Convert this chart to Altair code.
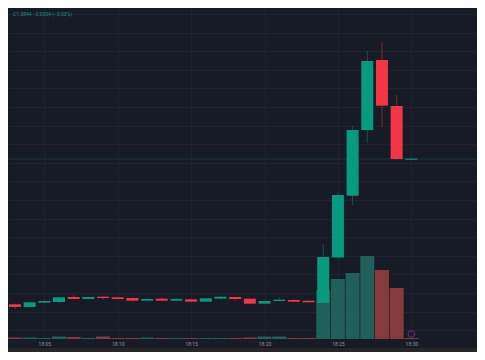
import altair as alt
import pandas as pd

# ---- data ----
times = ["18:02", "18:03", "18:04", "18:05", "18:06", "18:07", "18:08", "18:09", "18:10",
         "18:11", "18:12", "18:13", "18:14", "18:15", "18:16", "18:17", "18:18", "18:19",
         "18:20", "18:21", "18:22", "18:23", "18:24", "18:25", "18:26", "18:27", "18:28",
         "18:29", "18:30"]
opens = [1.380422, 1.380494, 1.380422, 1.380537, 1.380556, 1.380690, 1.380637, 1.380698, 1.380682,
         1.380663, 1.380591, 1.380645, 1.380591, 1.380628, 1.380564, 1.380645, 1.380690, 1.380645,
         1.380510, 1.380583, 1.380610, 1.380591, 1.380529, 1.381752, 1.383413, 1.385180, 1.387061,
         1.385825, 1.384380]
highs = [1.380502, 1.380521, 1.380569, 1.380602, 1.380682, 1.380744, 1.380703, 1.380709, 1.380690,
         1.380682, 1.380650, 1.380672, 1.380655, 1.380637, 1.380663, 1.380717, 1.380698, 1.380655,
         1.380591, 1.380690, 1.380637, 1.380602, 1.382115, 1.383486, 1.385287, 1.387303, 1.387545,
         1.386120, 1.384420]
lows = [1.380422, 1.380368, 1.380408, 1.380537, 1.380521, 1.380637, 1.380637, 1.380618, 1.380628,
        1.380564, 1.380583, 1.380591, 1.380591, 1.380556, 1.380556, 1.380618, 1.380591, 1.380498,
        1.380498, 1.380583, 1.380564, 1.380537, 1.380529, 1.381752, 1.383163, 1.384830, 1.385260,
        1.384373, 1.384380]
closes = [1.380502, 1.380422, 1.380548, 1.380583, 1.380682, 1.380637, 1.380690, 1.380663, 1.380637,
          1.380591, 1.380637, 1.380591, 1.380637, 1.380564, 1.380655, 1.380698, 1.380637, 1.380510,
          1.380583, 1.380618, 1.380564, 1.380548, 1.381766, 1.383432, 1.385180, 1.387034, 1.385833,
          1.384400, 1.384410]
volumes = [75, 75, 75, 50, 125, 100, 50, 125, 50,
           50, 75, 50, 50, 50, 50, 50, 50, 75,
           125, 125, 50, 50, 2450, 3000, 3300, 4150, 3450,
           2550, 50]
volume_dirs = ["up", "down", "up", "up", "up", "down", "up", "down", "down",
               "down", "up", "down", "up", "down", "up", "up", "down", "down",
               "up", "up", "down", "down", "up", "up", "up", "up", "down",
               "down", "down"]
tick_labels = ["18:05", "18:10", "18:15", "18:20", "18:25", "18:30"]
price_grid = [1.3798, 1.3803, 1.3808, 1.3813, 1.3818, 1.3823, 1.3828, 1.3833, 1.3838,
              1.3843, 1.3848, 1.3853, 1.3858, 1.3863, 1.3868, 1.3873, 1.3878, 1.3883]
last_price = [1.3844]
legend_text = ["C1.3844  \u22120.0004 (\u22120.03%)"]


def to_min(t):
    h, m = t.split(":")
    return int(h) * 60 + int(m)


df = pd.DataFrame({
    "time": times,
    "minute": [to_min(t) for t in times],
    "open": opens, "high": highs, "low": lows, "close": closes,
    "vol": volumes, "voldir": volume_dirs,
})
df["dir"] = ["up" if c >= o else "down" for o, c in zip(opens, closes)]

tick_values = [to_min(t) for t in tick_labels]
label_expr = " : ".join(f"datum.value == {v} ? '{l}'" for v, l in zip(tick_values, tick_labels)) + " : ''"

BG = "#171b26"
GRID = "#1f2430"

xscale = alt.Scale(domain=[1082.8667, 1114.1333], nice=False, zero=False)
xaxis = alt.Axis(values=tick_values, labelExpr=label_expr, grid=True, gridColor=GRID,
                 ticks=False, tickSize=0, domain=False, labelPadding=2, labelFontSize=5,
                 labelColor="#8b8f9a", labelFont="Roboto", title=None)
X = alt.X("minute:Q", scale=xscale, axis=xaxis)
yscale = alt.Scale(domain=[1.379561, 1.388459], nice=False, zero=False)
yaxis = alt.Axis(values=price_grid, grid=True, gridColor=GRID, labels=False, ticks=False,
                 domain=False, title=None, orient="left")

base = alt.Chart(df)

volume = base.mark_bar(width=14).encode(
    x=X,
    y=alt.Y("vol:Q", scale=alt.Scale(domain=[0, 16550], nice=False), axis=None),
    color=alt.Color("voldir:N", scale=alt.Scale(domain=["up", "down"], range=["#215f5a", "#873a3e"]),
                    legend=None),
)

price_line = alt.Chart(pd.DataFrame({"price": last_price})).mark_rule(
    color="#173a37", strokeWidth=1
).encode(y=alt.Y("price:Q", scale=yscale, axis=None))

wicks = base.mark_rule(strokeWidth=1).encode(
    x=X,
    y=alt.Y("low:Q", scale=yscale, axis=yaxis),
    y2="high:Q",
    color=alt.Color("dir:N", scale=alt.Scale(domain=["up", "down"], range=["#15544d", "#7c2b36"]),
                    legend=None),
)

bodies = base.mark_bar(width=12).encode(
    x=X,
    y=alt.Y("open:Q", scale=yscale, axis=None),
    y2="close:Q",
    color=alt.Color("dir:N", scale=alt.Scale(domain=["up", "down"], range=["#089981", "#f23645"]),
                    legend=None),
)

legend = alt.Chart(pd.DataFrame({"t": legend_text})).mark_text(
    align="left", baseline="middle", fontSize=5, color="#089981", font="Roboto"
).encode(x=alt.value(5), y=alt.value(6), text="t:N")

icon = alt.Chart(pd.DataFrame({"minute": [tick_values[-1]]})).mark_point(
    shape="circle", filled=False, stroke="#8a3aa0", strokeWidth=1, size=45
).encode(x=X, y=alt.value(326))

strip = alt.Chart(pd.DataFrame({"a": [0]})).mark_rect(color="#262626").encode(
    x=alt.value(0), x2=alt.value(469), y=alt.value(340), y2=alt.value(344)
)

chart = alt.layer(volume, price_line, wicks, bodies, legend, icon, strip).resolve_scale(
    y="independent", color="independent"
).properties(
    width=469, height=331,
    autosize=alt.AutoSizeParams(type="none"),
    padding={"left": 0, "top": 0, "right": 0, "bottom": 13},
    background=BG,
).configure_view(strokeWidth=0)

chart.save("out.html", embed_options={"renderer": "svg", "actions": False})
